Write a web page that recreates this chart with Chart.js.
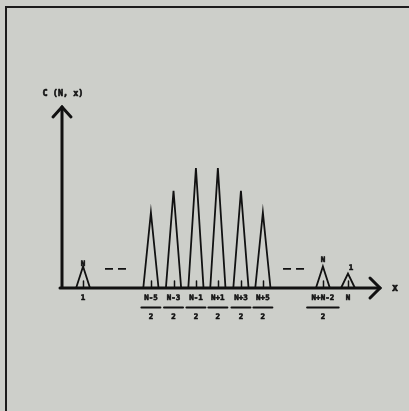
<!DOCTYPE html>
<html>
<head>
<meta charset="utf-8">
<script src="https://cdn.jsdelivr.net/npm/chart.js@4"></script>
<style>
html,body{margin:0;padding:0;background:#cdcfca;}
canvas{display:block;}
</style>
</head>
<body>
<canvas id="chart" width="409" height="411"></canvas>
<script>
// peak positions along x (slot units) and their heights (relative, tallest = 1)
const peakX=[0.94,3.97,4.98,5.98,6.96,7.99,8.97,11.65,12.77];
const peakH=[0.18,0.63,0.81,1.0,1.0,0.81,0.63,0.18,0.12];
const peakHalf=[0.31,0.34,0.34,0.34,0.34,0.34,0.34,0.31,0.31];

// labels under the axis: numerator / denominator (empty = no fraction)
const tickNum=["1","N-5","N-3","N-1","N+1","N+3","N+5","N+N-2","N"];
const tickDen=["","2","2","2","2","2","2","2",""];

// labels over the small peaks
const topLabel=["N","","","","","","","N","1"];

// "- -" ellipses between the groups
const dotsFrom=[1.92,9.87];
const dotsTo=[2.86,10.85];
const dotsY=0.16;

const xMax=14.2;
const yMax=1.508;
const ink="#111";
const mono="'DejaVu Sans Mono',monospace";

let peaks=[];
for(let i=0;i<peakX.length;i++){
peaks.push({x:peakX[i]-peakHalf[i],y:0});
peaks.push({x:peakX[i],y:peakH[i]});
peaks.push({x:peakX[i]+peakHalf[i],y:0});
peaks.push({x:peakX[i]+peakHalf[i],y:null});
}

let dots=[];
for(let i=0;i<dotsFrom.length;i++){
dots.push({x:dotsFrom[i],y:dotsY});
dots.push({x:dotsTo[i],y:dotsY});
dots.push({x:dotsTo[i],y:null});
}

function heavyText(c,s,x,y){
c.strokeText(s,x,y);
c.fillText(s,x,y);
}

const figure={
id:"figure",
beforeDraw(chart){
const c=chart.ctx;
c.save();
c.fillStyle="#cdcfca";
c.fillRect(0,0,chart.width,chart.height);
// scanned frame: top and left edge
c.strokeStyle="#1c1c1c";
c.lineWidth=2;
c.beginPath();
c.moveTo(6,411);
c.lineTo(6,7);
c.lineTo(409,7);
c.stroke();
c.restore();
},
afterDatasetsDraw(chart){
const c=chart.ctx;
const xs=chart.scales.x, ys=chart.scales.y;
const x0=xs.getPixelForValue(0), x1=xs.getPixelForValue(xMax);
const y0=ys.getPixelForValue(0), y1=ys.getPixelForValue(yMax);
c.save();
c.strokeStyle=ink;
c.fillStyle=ink;
c.lineCap="round";
c.lineJoin="miter";

// small centre marks inside each peak
c.lineWidth=1.5;
for(let i=0;i<peakX.length;i++){
const px=Math.round(xs.getPixelForValue(peakX[i]))+0.5;
c.beginPath();
c.moveTo(px,y0);
c.lineTo(px,y0-7);
c.stroke();
}

// axes with arrowheads
c.lineWidth=3;
c.beginPath();
c.moveTo(x0-2,y0);
c.lineTo(x1,y0);
c.moveTo(x0,y0);
c.lineTo(x0,y1);
c.stroke();
c.beginPath();
c.moveTo(x0-9,y1+10);
c.lineTo(x0,y1);
c.lineTo(x0+9,y1+10);
c.moveTo(x1-10,y0-10);
c.lineTo(x1,y0);
c.lineTo(x1-10,y0+10);
c.stroke();

// axis titles
c.lineWidth=0.6;
c.lineJoin="round";
c.font="bold 8.5px "+mono;
c.textAlign="center";
c.textBaseline="middle";
heavyText(c,"C (N, x)",x0+1,y1-13);
c.font="bold 10px "+mono;
heavyText(c,"x",x1+15,y0);

// tick labels with fraction bars
c.font="bold 7.5px "+mono;
for(let i=0;i<tickNum.length;i++){
const px=xs.getPixelForValue(peakX[i]);
c.lineWidth=0.6;
heavyText(c,tickNum[i],px,y0+10);
if(tickDen[i]){
const tw=c.measureText(tickNum[i]).width;
const w=tw<20?19:tw+9;
c.lineWidth=2;
c.beginPath();
c.moveTo(px-w/2,y0+19.5);
c.lineTo(px+w/2,y0+19.5);
c.stroke();
c.lineWidth=0.6;
heavyText(c,tickDen[i],px,y0+29);
}
if(topLabel[i]){
c.lineWidth=0.6;
heavyText(c,topLabel[i],px+(i==8?3:0),ys.getPixelForValue(peakH[i])-(i==0?2:6));
}
}
c.restore();
}
};

new Chart(document.getElementById("chart"),{
type:"line",
data:{
datasets:[{
data:peaks,
borderColor:ink,
borderWidth:1.8,
borderJoinStyle:"miter",
pointRadius:0,
spanGaps:false,
tension:0,
clip:false
},{
data:dots,
borderColor:ink,
borderWidth:1.8,
borderDash:[8,5],
pointRadius:0,
spanGaps:false,
clip:false
}]
},
options:{
responsive:false,
animation:false,
layout:{padding:{left:62,right:29,top:107,bottom:123}},
plugins:{legend:{display:false},tooltip:{enabled:false}},
scales:{
x:{type:"linear",min:0,max:xMax,display:false},
y:{type:"linear",min:0,max:yMax,display:false}
}
},
plugins:[figure]
});
</script>
</body>
</html>
